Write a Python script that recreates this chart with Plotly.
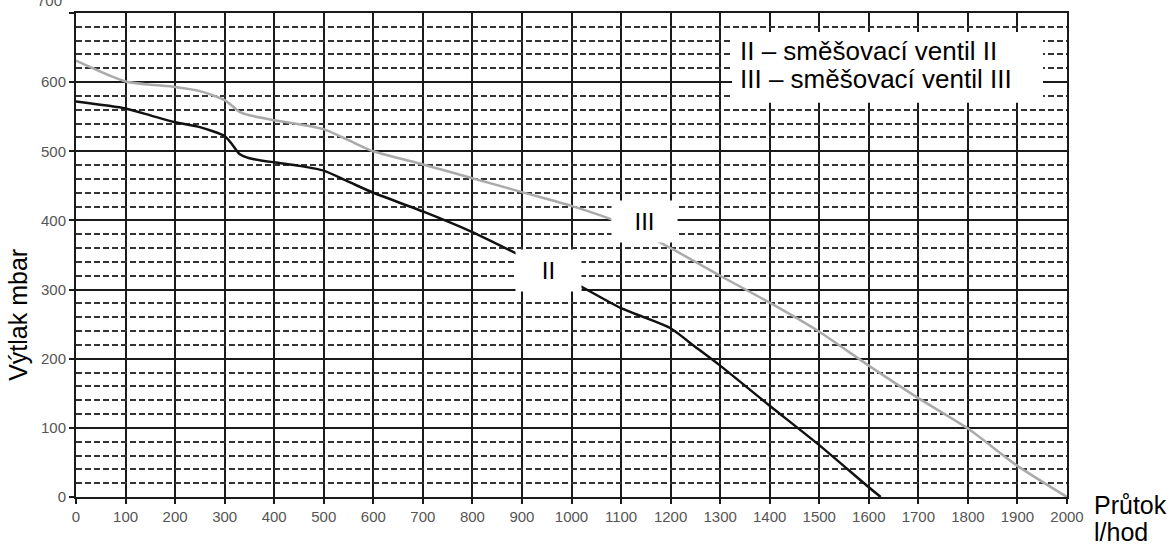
import plotly.graph_objects as go

# ---- data ----
x_II = [0, 100, 150, 200, 250, 300, 315, 330, 350, 400, 450, 500, 550, 600, 700, 800, 900, 1000, 1100, 1150, 1200, 1250, 1300, 1400, 1500, 1600, 1624]
y_II = [572, 562, 552, 542, 535, 522, 510, 496, 490, 484, 479, 472, 456, 440, 413, 383, 348, 312, 273, 259, 244, 217, 190, 132, 75, 14, 0]

x_III = [0, 100, 200, 250, 300, 330, 350, 400, 450, 500, 550, 600, 700, 800, 900, 1000, 1100, 1200, 1300, 1400, 1500, 1600, 1700, 1800, 1900, 2000]
y_III = [631, 601, 593, 587, 574, 557, 552, 545, 539, 532, 516, 500, 481, 461, 441, 421, 396, 360, 320, 281, 239, 190, 143, 99, 45, 0]

x_ticks = list(range(0, 2001, 100))
y_ticks = list(range(0, 701, 100))
y_minor = [v for v in range(0, 701, 20) if v % 100 != 0]
y_ticktext = [str(v) for v in y_ticks[:-1]] + [""]

legend_lines = ["II – směšovací ventil II", "III – směšovací ventil III"]
curve_labels = [("II", 954, 328), ("III", 1147, 398)]

TXT = "Liberation Sans, Arial, sans-serif"
TICK = "Liberation Sans, Arial, sans-serif"

fig = go.Figure()
# invisible trace that carries the dashed (20-step) grid axis
fig.add_trace(go.Scatter(x=[x_ticks[0]], y=[y_ticks[0]], mode="markers",
                         marker=dict(opacity=0), yaxis="y", hoverinfo="skip"))
fig.add_trace(go.Scatter(x=x_III, y=y_III, mode="lines", name="III", yaxis="y2",
                         line=dict(color="#aaaaaa", width=2.5, shape="spline", smoothing=0.6),
                         hoverinfo="skip"))
fig.add_trace(go.Scatter(x=x_II, y=y_II, mode="lines", name="II", yaxis="y2",
                         line=dict(color="#111111", width=2.5, shape="spline", smoothing=0.6),
                         hoverinfo="skip"))

fig.update_layout(
    width=1173, height=545,
    margin=dict(l=76, r=106, t=11, b=48, pad=0),
    paper_bgcolor="white", plot_bgcolor="white",
    showlegend=False,
    xaxis=dict(
        range=[0, 2000], tickvals=x_ticks, ticktext=[str(v) for v in x_ticks],
        showgrid=True, gridcolor="#1a1a1a", gridwidth=1.5,
        showline=True, linecolor="#1a1a1a", linewidth=2, mirror=True,
        ticks="outside", ticklen=5, tickcolor="#1a1a1a", tickwidth=1.5,
        zeroline=False, tickfont=dict(family=TICK, size=15, color="#555555"),
    ),
    yaxis=dict(
        range=[0, 700], tickvals=y_minor, showticklabels=False, ticks="",
        showgrid=True, gridcolor="#333333", gridwidth=1.5, griddash="6px,3px",
        showline=False, zeroline=False,
    ),
    yaxis2=dict(
        range=[0, 700], tickvals=y_ticks, ticktext=y_ticktext, overlaying="y", side="left",
        showgrid=True, gridcolor="#1a1a1a", gridwidth=1.5,
        showline=True, linecolor="#1a1a1a", linewidth=2, mirror=True,
        ticks="outside", ticklen=5, tickcolor="#1a1a1a", tickwidth=1.5,
        zeroline=False, tickfont=dict(family=TICK, size=15, color="#555555"),
    ),
)

# white legend box
fig.add_shape(type="rect", xref="paper", yref="paper",
              x0=0.662, x1=0.9758, y0=0.8148, y1=0.961,
              fillcolor="white", line=dict(width=0), layer="above")

ann = []
ann.append(dict(text=legend_lines[0], xref="paper", yref="paper", x=0.668, y=0.9218,
                xanchor="left", yanchor="middle", showarrow=False,
                font=dict(family=TXT, size=26, color="black")))
ann.append(dict(text=legend_lines[1], xref="paper", yref="paper", x=0.668, y=0.8642,
                xanchor="left", yanchor="middle", showarrow=False,
                font=dict(family=TXT, size=26, color="black")))
for lab, lx, ly in curve_labels:
    ann.append(dict(text=lab, x=lx, y=ly, xref="x", yref="y2", showarrow=False,
                    width=65, height=41, bgcolor="white", borderpad=0,
                    font=dict(family=TXT, size=24, color="black")))
# axis titles
ann.append(dict(text="Výtlak mbar", xref="paper", yref="paper", x=-0.0585, y=0.3765,
                textangle=-90, showarrow=False, xanchor="center", yanchor="middle",
                font=dict(family=TXT, size=25, color="black")))
ann.append(dict(text="Průtok", xref="paper", yref="paper", x=1.0252, y=-0.0175,
                xanchor="left", yanchor="middle", showarrow=False,
                font=dict(family=TXT, size=25, color="black")))
ann.append(dict(text="l/hod", xref="paper", yref="paper", x=1.0252, y=-0.072,
                xanchor="left", yanchor="middle", showarrow=False,
                font=dict(family=TXT, size=25, color="black")))
# top tick label, partly above the page edge as in the reference
ann.append(dict(text="700", xref="paper", yref="paper", x=-0.0121, y=1.0267,
                xanchor="right", yanchor="middle", showarrow=False,
                font=dict(family=TICK, size=15, color="#555555")))
fig.update_layout(annotations=ann)

fig.write_html("out.html")
